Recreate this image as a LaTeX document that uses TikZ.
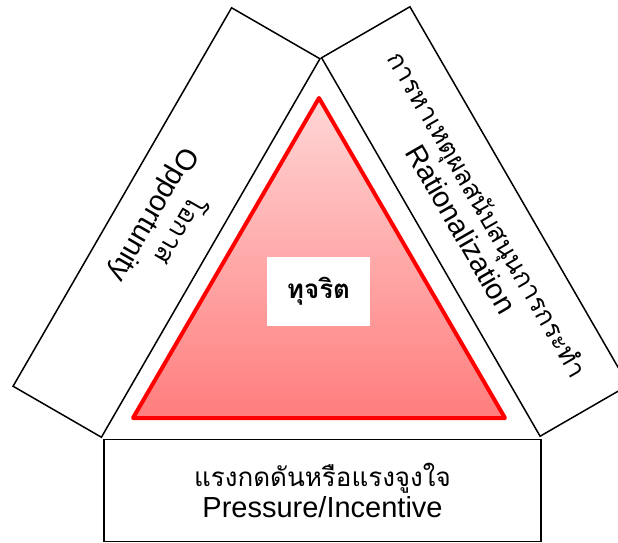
\documentclass[tikz,border=0pt]{standalone}
\usepackage{fontspec}
\setmainfont{Liberation Sans}
\newfontfamily\thaifont[Script=Thai]{Loma}
\newcommand{\thline}[1]{{\thaifont\fontsize{26}{31}\selectfont #1}}
\begin{document}
\begin{tikzpicture}[x=1pt,y=-1pt,
  sidebox/.style={draw=black, line width=1.5pt, fill=white, minimum width=437pt,
    minimum height=102pt, inner sep=0pt, align=center,
    font=\fontsize{29}{31}\selectfont},
  fraudtri/.style={draw=red, line width=4pt, line join=round,
    top color=redtop, bottom color=redbot},
  centerbox/.style={fill=white, minimum width=103pt, minimum height=69pt, inner sep=0pt,
    font=\thaifont\bfseries\fontsize{26}{30}\selectfont}]
\definecolor{redtop}{RGB}{255,214,214}
\definecolor{redbot}{RGB}{255,125,125}
\useasboundingbox (0,0) rectangle (618,543);
\clip (0,0) rectangle (618,543);
% three side boxes
\node[sidebox] (press) at (322.5,490.5)
  {\thline{แรงกดดันหรือแรงจูงใจ}\\Pressure/Incentive};
\node[sidebox, rotate=-120] (opp) at (166.5,222.5)
  {\thline{โอกาส}\\Opportunity};
\node[sidebox, rotate=-60] (rat) at (475,221.5)
  {\thline{การหาเหตุผลสนับสนุนการกระทำ}\\Rationalization};
% fraud triangle
\coordinate (apex) at (319,98);
\coordinate (br) at (505,418);
\coordinate (bl) at (133,418);
\path[fraudtri] (apex) -- (br) -- (bl) -- cycle;
\node[centerbox] (fraud) at (318.5,291.5) {ทุจริต};
\end{tikzpicture}
\end{document}
